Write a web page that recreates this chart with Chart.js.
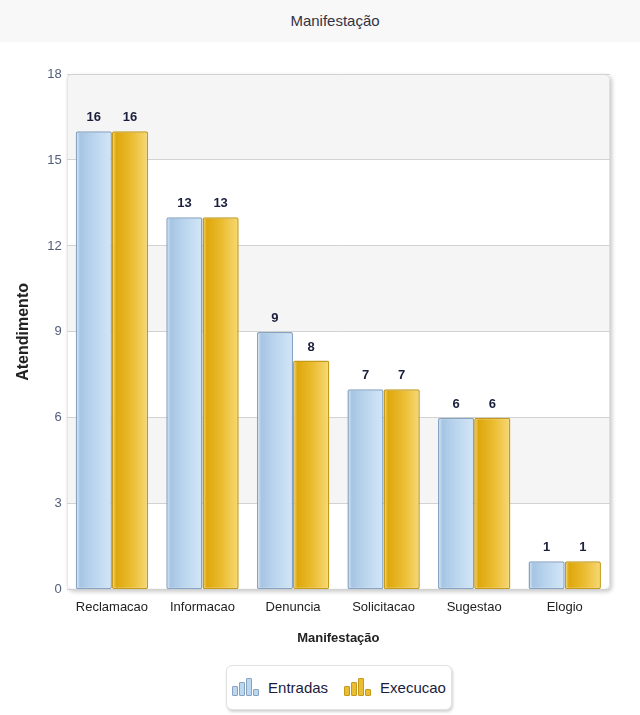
<!DOCTYPE html>
<html>
<head>
<meta charset="utf-8">
<title>Manifestação</title>
<script src="https://cdn.jsdelivr.net/npm/chart.js@4.4.0/dist/chart.umd.min.js"></script>
<style>
    body {
        margin: 0;
        width: 640px;
        height: 715px;
        background: #ffffff;
        font-family: "Liberation Sans", Arial, sans-serif;
        overflow: hidden;
    }
    .title-band {
        height: 42px;
        background: #f8f8f8;
        line-height: 42px;
        text-align: center;
        padding-left: 30px;
        font-size: 15px;
        color: #333344;
        box-sizing: border-box;
    }
    .chart-box {
        position: relative;
        width: 640px;
        height: 615px;
    }
    .legend {
        position: absolute;
        left: 226px;
        top: 665px;
        width: 226px;
        height: 45px;
        box-sizing: border-box;
        border: 1px solid #e2e2e2;
        border-radius: 6px;
        box-shadow: 1px 2px 3px rgba(0, 0, 0, 0.18);
        background: #ffffff;
        display: flex;
        align-items: center;
        justify-content: center;
        gap: 16px;
    }
    .legend-item {
        display: flex;
        align-items: center;
        font-size: 15px;
        color: #1c1c3c;
    }
    .legend-icon {
        display: flex;
        align-items: flex-end;
        height: 16px;
        margin-right: 8px;
    }
    .legend-icon span {
        display: block;
        width: 4px;
        margin-right: 1px;
        border-radius: 1px;
    }
</style>
</head>
<body>
<div class="title-band">Manifestação</div>
<div class="chart-box">
    <canvas id="manifestChart"></canvas>
</div>
<div class="legend" id="legend"></div>

<script>
// Chart data
const categories = ['Reclamacao', 'Informacao', 'Denuncia', 'Solicitacao', 'Sugestao', 'Elogio'];
const entradas = [16, 13, 9, 7, 6, 1];
const execucao = [16, 13, 8, 7, 6, 1];
const seriesNames = ['Entradas', 'Execucao'];
const yTicks = [0, 3, 6, 9, 12, 15, 18];

// Bar colour stops (left to right)
const gradientStops = [
    [[0, '#e4eff9'], [0.12, '#a6c5e3'], [0.55, '#bdd7ef'], [1, '#d3e6f7']],
    [[0, '#f6dc82'], [0.12, '#dea70c'], [0.55, '#ebbd32'], [1, '#f7d978']]
];
const borderColors = ['#86a3c2', '#c39a1b'];

function barGradient(context) {
    const chart = context.chart;
    const xScale = chart.scales.x;
    const fallback = gradientStops[context.datasetIndex][2][1];
    if (!xScale || !chart.chartArea) return fallback;
    const step = xScale.width / categories.length;
    const center = xScale.getPixelForValue(context.dataIndex);
    const barWidth = step * 0.8 / 2;
    const x0 = center - step * 0.4 + context.datasetIndex * barWidth;
    const grad = chart.ctx.createLinearGradient(x0, 0, x0 + barWidth, 0);
    gradientStops[context.datasetIndex].forEach(s => grad.addColorStop(s[0], s[1]));
    return grad;
}

// Plot frame with alternating bands
const framePlugin = {
    id: 'frame',
    beforeDraw(chart) {
        const { ctx, chartArea: a, scales: { y } } = chart;
        ctx.save();
        ctx.shadowColor = 'rgba(0, 0, 0, 0.22)';
        ctx.shadowBlur = 4;
        ctx.shadowOffsetX = 2;
        ctx.shadowOffsetY = 2;
        ctx.fillStyle = '#ffffff';
        ctx.beginPath();
        ctx.roundRect(a.left, a.top, a.width, a.height, 5);
        ctx.fill();
        ctx.restore();

        ctx.save();
        ctx.beginPath();
        ctx.roundRect(a.left, a.top, a.width, a.height, 5);
        ctx.clip();
        for (let i = 0; i < yTicks.length - 1; i++) {
            if ((yTicks.length - 2 - i) % 2 === 0) {
                const top = y.getPixelForValue(yTicks[i + 1]);
                const bottom = y.getPixelForValue(yTicks[i]);
                ctx.fillStyle = '#f5f5f5';
                ctx.fillRect(a.left, top, a.width, bottom - top);
            }
        }
        ctx.restore();

        ctx.save();
        ctx.strokeStyle = '#e0e0e0';
        ctx.lineWidth = 1;
        ctx.beginPath();
        ctx.roundRect(a.left + 0.5, a.top + 0.5, a.width - 1, a.height - 1, 5);
        ctx.stroke();
        ctx.restore();
    }
};

// Value labels above bars
const valueLabels = {
    id: 'valueLabels',
    afterDatasetsDraw(chart) {
        const ctx = chart.ctx;
        ctx.save();
        ctx.font = 'bold 13px "Liberation Sans", Arial, sans-serif';
        ctx.fillStyle = '#1a1f3d';
        ctx.textAlign = 'center';
        ctx.textBaseline = 'bottom';
        chart.data.datasets.forEach((ds, di) => {
            chart.getDatasetMeta(di).data.forEach((bar, i) => {
                ctx.fillText(ds.data[i], bar.x, bar.y - 7);
            });
        });
        ctx.restore();
    }
};

function initChart() {
    const ctx = document.getElementById('manifestChart').getContext('2d');

    new Chart(ctx, {
        type: 'bar',
        data: {
            labels: categories,
            datasets: [{
                label: seriesNames[0],
                data: entradas,
                backgroundColor: barGradient,
                borderColor: borderColors[0],
                borderWidth: 1.5,
                borderRadius: 2,
                borderSkipped: false
            }, {
                label: seriesNames[1],
                data: execucao,
                backgroundColor: barGradient,
                borderColor: borderColors[1],
                borderWidth: 1.5,
                borderRadius: 2,
                borderSkipped: false
            }]
        },
        options: {
            responsive: true,
            maintainAspectRatio: false,
            animation: false,
            layout: {
                padding: { top: 32, right: 30, bottom: 11, left: 8 }
            },
            datasets: {
                bar: {
                    categoryPercentage: 0.8,
                    barPercentage: 1.0
                }
            },
            plugins: {
                legend: { display: false },
                tooltip: { enabled: false }
            },
            scales: {
                x: {
                    border: { display: false },
                    grid: { display: false },
                    ticks: {
                        color: '#222222',
                        padding: 2,
                        font: { size: 13, family: '"Liberation Sans", Arial, sans-serif' }
                    },
                    title: {
                        display: true,
                        text: 'Manifestação',
                        color: '#222222',
                        padding: { top: 13, bottom: 0 },
                        font: { size: 13, weight: 'bold', family: '"Liberation Sans", Arial, sans-serif' }
                    }
                },
                y: {
                    min: 0,
                    max: 18,
                    border: { display: false },
                    grid: {
                        color: '#d2d2d2',
                        drawTicks: false
                    },
                    ticks: {
                        stepSize: 3,
                        color: '#505c78',
                        padding: 5,
                        font: { size: 13, family: '"Liberation Sans", Arial, sans-serif' }
                    },
                    title: {
                        display: true,
                        text: 'Atendimento',
                        color: '#222222',
                        padding: { top: 6, bottom: 9 },
                        font: { size: 16, weight: 'bold', family: '"Liberation Sans", Arial, sans-serif' }
                    }
                }
            }
        },
        plugins: [framePlugin, valueLabels]
    });
}

// Build HTML legend
function renderLegend() {
    const legend = document.getElementById('legend');
    const heights = [8, 12, 16, 5];
    seriesNames.forEach((name, i) => {
        const item = document.createElement('div');
        item.className = 'legend-item';
        const bars = heights.map(h =>
            `<span style="height:${h}px;background:${gradientStops[i][2][1]};border:1px solid ${borderColors[i]}"></span>`
        ).join('');
        item.innerHTML = `<div class="legend-icon">${bars}</div>${name}`;
        legend.appendChild(item);
    });
}

document.addEventListener('DOMContentLoaded', function() {
    initChart();
    renderLegend();
});
</script>
</body>
</html>
